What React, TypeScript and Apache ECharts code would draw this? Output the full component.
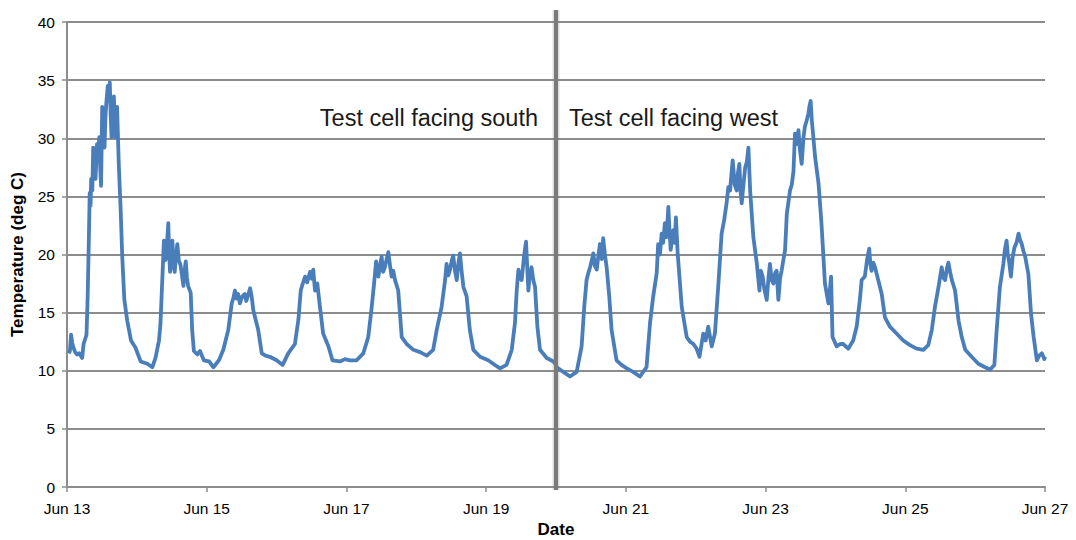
import { useEffect, useRef } from "react";
import * as echarts from "echarts";

// x values are hours since Jun 13 00:00
const xTickLabels = ["Jun 13", "Jun 15", "Jun 17", "Jun 19", "Jun 21", "Jun 23", "Jun 25", "Jun 27"];
const hoursPerTick = 48;
const totalHours = 336;
const switchHour = 168; // Jun 20 00:00
const southLabel = "Test cell facing south";
const westLabel = "Test cell facing west";
const yAxisTitle = "Temperature (deg C)";
const xAxisTitle = "Date";

const southFacing: [number, number][] = [
  [0.6, 11.5], [1.0, 11.7], [1.4, 13.1], [1.8, 12.4], [2.2, 12.0], [2.8, 11.6], [3.4, 11.4], [4.2, 11.5], [5.2, 11.1], [5.7, 12.3],
  [6.7, 13.1], [7.1, 16.4], [7.5, 21.2], [7.8, 25.3], [8.1, 24.2], [8.3, 26.5], [8.7, 25.5], [9.0, 29.2], [9.4, 27.0], [9.8, 26.5],
  [10.3, 29.5], [10.7, 28.6], [11.1, 30.1], [11.4, 27.5], [11.7, 25.9], [12.1, 32.7], [12.5, 30.5], [12.9, 29.2], [13.2, 31.8], [13.5, 33.0],
  [14.0, 34.5], [14.4, 33.2], [14.7, 34.8], [15.0, 32.0], [15.3, 30.1], [15.7, 32.5], [16.1, 33.6], [16.6, 30.1], [16.9, 31.5], [17.2, 32.7],
  [17.8, 27.7], [18.4, 24.1], [19.0, 19.7], [19.7, 16.1], [20.7, 14.3], [22.0, 12.6], [23.5, 12.0], [25.3, 10.8], [27.6, 10.6], [29.3, 10.3],
  [30.4, 11.1], [31.6, 12.6], [32.1, 14.0], [32.7, 17.6], [33.3, 21.2], [33.7, 19.5], [34.1, 19.7], [34.5, 21.5], [34.8, 22.7], [35.1, 20.0],
  [35.4, 18.5], [35.8, 20.5], [36.2, 21.2], [36.6, 19.0], [37.0, 18.5], [37.5, 20.0], [37.9, 20.9], [38.4, 19.5], [39.0, 19.1], [39.5, 18.2],
  [40.0, 17.3], [40.4, 18.6], [40.8, 19.4], [41.2, 18.0], [41.6, 17.3], [42.5, 16.7], [43.0, 13.5], [43.6, 11.7], [44.8, 11.4], [45.7, 11.7],
  [47.0, 10.9], [48.8, 10.8], [50.3, 10.3], [52.2, 10.9], [53.7, 11.8], [55.4, 13.5], [56.6, 15.8], [57.2, 16.3], [57.7, 16.9], [58.3, 16.2],
  [58.8, 16.6], [59.4, 15.8], [60.2, 16.4], [61.1, 16.6], [61.6, 16.0], [62.2, 16.5], [62.9, 17.1], [63.5, 16.3], [64.0, 15.2], [65.7, 13.5],
  [66.9, 11.5], [68.2, 11.3], [69.7, 11.2], [72.0, 10.9], [74.1, 10.5], [76.0, 11.5], [78.3, 12.3], [79.5, 14.4], [80.3, 16.9], [81.0, 17.5],
  [81.8, 18.1], [82.5, 17.6], [83.5, 18.5], [84.1, 17.9], [84.6, 18.7], [85.2, 16.9], [86.0, 17.5], [86.9, 15.5], [88.0, 13.2], [89.8, 12.1],
  [91.2, 10.9], [93.8, 10.8], [95.5, 11.0], [97.2, 10.9], [99.5, 10.9], [101.8, 11.5], [103.5, 12.9], [104.7, 15.5], [105.5, 17.5], [106.2, 19.4],
  [106.6, 18.4], [107.0, 18.1], [107.6, 19.2], [108.1, 19.8], [108.6, 18.5], [109.2, 18.9], [109.8, 19.6], [110.4, 20.2], [111.0, 19.0], [111.5, 18.1],
  [112.1, 18.6], [112.7, 17.8], [113.8, 16.9], [114.4, 14.9], [115.0, 12.9], [116.7, 12.3], [119.0, 11.8], [121.3, 11.6], [123.6, 11.3], [125.8, 11.8],
  [127.0, 13.5], [128.7, 15.5], [129.9, 17.8], [130.4, 19.2], [131.0, 18.2], [131.6, 18.7], [132.2, 19.5], [132.7, 19.9], [133.3, 18.6], [133.9, 17.8],
  [134.5, 19.3], [135.0, 20.1], [135.6, 18.5], [136.2, 17.2], [137.3, 16.4], [138.4, 13.5], [139.6, 11.8], [141.9, 11.2], [144.7, 10.9], [147.0, 10.5],
  [148.8, 10.2], [151.0, 10.5], [152.8, 11.8], [153.9, 14.1], [154.5, 16.9], [155.1, 18.7], [155.6, 18.0], [156.2, 17.8], [156.6, 18.8], [157.0, 19.8],
  [157.7, 21.1], [158.1, 19.0], [158.5, 16.9], [159.0, 18.3], [159.6, 18.9], [160.2, 17.8], [160.8, 17.2], [161.6, 13.8], [162.5, 11.8], [164.8, 11.1],
  [167.1, 10.8], [168.0, 10.5],
];

const westFacing: [number, number][] = [
  [168.2, 10.3], [170.5, 9.9], [172.8, 9.5], [175.1, 9.9], [176.8, 12.1], [177.7, 15.5], [178.5, 17.8], [179.1, 18.4], [179.7, 18.9], [180.3, 19.5],
  [180.8, 20.1], [181.4, 19.0], [182.0, 18.7], [182.6, 20.0], [183.1, 20.9], [183.7, 19.6], [184.2, 21.4], [184.8, 20.0], [185.4, 18.9], [186.3, 16.4],
  [187.1, 13.5], [188.8, 10.9], [190.5, 10.5], [192.3, 10.2], [194.5, 9.9], [196.8, 9.5], [199.1, 10.3], [200.3, 14.1], [201.4, 16.4], [202.6, 18.4],
  [203.1, 20.9], [203.7, 20.0], [204.3, 21.8], [204.8, 21.0], [205.4, 22.7], [206.0, 21.5], [206.6, 24.1], [207.0, 22.0], [207.4, 20.4], [208.3, 22.1],
  [208.8, 21.0], [209.2, 23.2], [209.8, 20.1], [211.2, 15.5], [212.9, 12.9], [214.0, 12.5], [215.2, 12.3], [216.3, 11.9], [217.3, 11.2], [218.6, 13.2],
  [219.4, 12.6], [220.3, 13.8], [221.5, 12.1], [222.6, 13.2], [223.8, 17.5], [224.9, 21.8], [225.8, 23.0], [226.6, 24.4], [227.2, 25.8], [227.8, 25.5],
  [228.3, 27.0], [228.7, 28.1], [229.4, 26.0], [230.1, 25.5], [230.5, 27.0], [231.0, 27.8], [231.4, 25.5], [231.8, 24.4], [232.4, 26.0], [233.0, 27.5],
  [233.6, 28.0], [234.1, 29.2], [234.7, 25.5], [235.8, 21.5], [237.0, 19.2], [237.9, 16.9], [238.4, 18.6], [239.0, 18.1], [239.6, 17.0], [240.4, 16.1],
  [241.0, 18.0], [241.5, 19.2], [242.1, 17.8], [242.7, 17.5], [243.3, 18.4], [243.8, 18.6], [244.4, 16.1], [245.0, 18.0], [245.5, 18.6], [246.7, 20.4],
  [247.3, 23.5], [248.4, 25.5], [249.0, 26.0], [249.6, 27.2], [250.1, 30.4], [250.7, 29.5], [251.3, 30.7], [251.8, 29.0], [252.4, 27.8], [253.0, 30.0],
  [253.5, 31.0], [254.1, 31.5], [254.7, 32.1], [255.1, 32.8], [255.5, 33.2], [255.9, 31.5], [256.2, 30.7], [257.0, 28.4], [258.2, 26.1], [259.2, 22.7],
  [260.4, 17.5], [261.6, 15.8], [262.1, 17.0], [262.5, 18.1], [263.0, 12.9], [264.4, 12.1], [265.6, 12.3], [266.7, 12.3], [268.4, 11.9], [270.1, 12.6],
  [271.3, 13.8], [272.4, 16.1], [273.0, 17.8], [274.1, 18.1], [274.9, 19.6], [275.6, 20.5], [276.0, 19.2], [276.4, 18.6], [277.0, 19.3], [277.6, 18.9],
  [278.2, 18.3], [278.7, 17.8], [279.9, 16.6], [281.0, 14.6], [282.7, 13.8], [285.0, 13.2], [287.3, 12.6], [289.6, 12.2], [291.9, 11.9], [294.2, 11.8],
  [295.9, 12.2], [297.1, 13.5], [298.2, 15.5], [299.4, 17.2], [300.5, 18.9], [301.1, 18.0], [301.7, 17.8], [302.3, 18.8], [302.8, 19.3], [303.4, 18.5],
  [304.0, 17.8], [305.1, 16.9], [306.3, 14.3], [307.4, 12.9], [308.6, 11.8], [310.8, 11.2], [313.1, 10.6], [315.4, 10.3], [317.1, 10.1], [318.6, 10.5],
  [319.4, 13.5], [320.5, 17.2], [321.7, 19.2], [322.2, 20.4], [322.8, 21.2], [323.2, 20.0], [323.6, 19.5], [324.3, 18.1], [324.9, 19.8], [325.5, 20.6],
  [326.2, 21.0], [326.9, 21.8], [327.4, 21.3], [328.0, 20.9], [328.6, 20.3], [329.2, 19.8], [330.3, 18.3], [331.2, 14.9], [332.1, 12.9], [333.2, 10.9],
  [334.0, 11.3], [334.9, 11.5], [335.8, 11.0], [336.0, 11.2],
];

const FONT = "'Liberation Sans', Arial, sans-serif";
const GRID_GRAY = "#8c8c8c";

export default function App() {
  const ref = useRef<HTMLDivElement>(null);

  useEffect(() => {
    if (!ref.current) return;
    const chart = echarts.init(ref.current, undefined, { renderer: "svg" });
    chart.setOption({
      animation: false,
      backgroundColor: "#ffffff",
      grid: { left: 67, right: 31, top: 22, bottom: 53, containLabel: false, outerBoundsMode: "none" },
      xAxis: {
        type: "value",
        min: 0,
        max: totalHours,
        interval: hoursPerTick,
        name: xAxisTitle,
        nameLocation: "middle",
        nameGap: 34,
        nameTextStyle: { fontFamily: FONT, fontSize: 17, fontWeight: "bold", color: "#000" },
        axisLine: { show: true, lineStyle: { color: GRID_GRAY, width: 2 } },
        axisTick: { show: true, length: 5, lineStyle: { color: GRID_GRAY, width: 1.5 } },
        axisLabel: {
          margin: 13,
          fontFamily: FONT,
          fontSize: 15.5,
          color: "#000",
          formatter: (v: number) => xTickLabels[Math.round(v / hoursPerTick)] ?? "",
        },
        splitLine: { show: false },
      },
      yAxis: {
        type: "value",
        min: 0,
        max: 40,
        interval: 5,
        name: yAxisTitle,
        nameLocation: "middle",
        nameGap: 41,
        nameTextStyle: { fontFamily: FONT, fontSize: 17, fontWeight: "bold", color: "#000" },
        axisLine: { show: true, lineStyle: { color: GRID_GRAY, width: 2 } },
        axisTick: { show: true, length: 5, lineStyle: { color: GRID_GRAY, width: 1.5 } },
        axisLabel: { margin: 12, fontFamily: FONT, fontSize: 15.5, color: "#000" },
        splitLine: { show: true, lineStyle: { color: GRID_GRAY, width: 2 } },
      },
      series: [
        {
          type: "line",
          data: [...southFacing, ...westFacing],
          showSymbol: false,
          symbol: "none",
          lineStyle: { color: "#4A7EBB", width: 3.8, join: "round" },
          z: 3,
        },
      ],
    });

    const px = chart.convertToPixel({ xAxisIndex: 0 }, switchHour) as number;
    const topY = (chart.convertToPixel({ yAxisIndex: 0 }, 40) as number) - 12;
    const botY = (chart.convertToPixel({ yAxisIndex: 0 }, 0) as number) + 3;
    const labelY = chart.convertToPixel({ yAxisIndex: 0 }, 31.7) as number;
    chart.setOption({
      graphic: [
        {
          type: "rect",
          shape: { x: px - 3.5, y: topY, width: 7, height: botY - topY },
          style: { fill: "rgba(120,120,120,0.25)" },
          z: 100,
        },
        {
          type: "rect",
          shape: { x: px - 2, y: topY, width: 4, height: botY - topY },
          style: { fill: "#7a7a7a" },
          z: 101,
        },
        {
          type: "text",
          x: px - 18,
          y: labelY,
          style: { text: southLabel, fontFamily: FONT, fontSize: 23.5, fill: "#1a1a1a", align: "right", verticalAlign: "middle" },
          z: 102,
        },
        {
          type: "text",
          x: px + 13,
          y: labelY,
          style: { text: westLabel, fontFamily: FONT, fontSize: 23.5, fill: "#1a1a1a", align: "left", verticalAlign: "middle" },
          z: 102,
        },
      ],
    });

    return () => chart.dispose();
  }, []);

  return <div ref={ref} style={{ position: "fixed", left: 0, top: 0, width: 1076, height: 540 }} />;
}
